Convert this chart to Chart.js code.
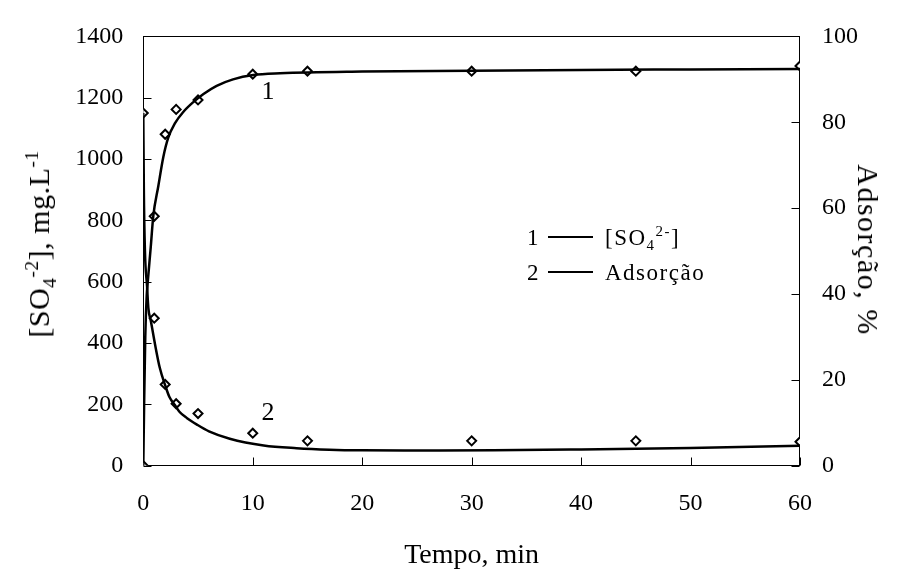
<!DOCTYPE html>
<html>
<head>
<meta charset="utf-8">
<script src="https://cdn.jsdelivr.net/npm/chart.js@4.4.1/dist/chart.umd.min.js"></script>
<style>
  body { margin: 0; background: #fff; }
  #wrap { position: relative; width: 900px; height: 574px; font-family: "Liberation Serif", "Times New Roman", serif; color: #000; }
  .txt { position: absolute; white-space: nowrap; line-height: 1; }
  .ytitle { font-size: 30px; letter-spacing: 0.5px; transform: translate(-50%, -50%) rotate(-90deg); }
  .y2title { font-size: 30px; letter-spacing: 1.5px; transform: translate(-50%, -50%) rotate(90deg); }
  .curve-lbl { font-size: 26px; transform: translate(-50%, -50%); }
  .leg { font-size: 23px; letter-spacing: 1.5px; transform: translateY(-50%); }
  .leg-line { position: absolute; height: 2px; width: 45px; background: #000; }
  sub, sup { font-size: 65%; line-height: 0; }
</style>
</head>
<body>
<div id="wrap">
  <canvas id="grafico" width="900" height="574"></canvas>

  <div class="txt ytitle" style="left:39px; top:244px;">[SO<sub>4</sub><sup>-2</sup>], mg.L<sup>-1</sup></div>
  <div class="txt y2title" style="left:868px; top:250px;">Adsorção, %</div>

  <div class="txt curve-lbl" style="left:268px; top:91px;">1</div>
  <div class="txt curve-lbl" style="left:268px; top:412px;">2</div>

  <div class="txt leg" style="left:527px; top:237px;">1</div>
  <div class="leg-line" style="left:548px; top:236px;"></div>
  <div class="txt leg" style="left:605px; top:237px;">[SO<sub>4</sub><sup>2-</sup>]</div>

  <div class="txt leg" style="left:527px; top:272px;">2</div>
  <div class="leg-line" style="left:548px; top:271px;"></div>
  <div class="txt leg" style="left:605px; top:272px;">Adsorção</div>
</div>

<script>
// tempos medidos (min)
const tempos = [0, 1, 2, 3, 5, 10, 15, 30, 45, 60];

// curva superior (1) - eixo direito, %
const pontosSup = [0, 58.1, 77.2, 83.0, 85.2, 91.2, 91.9, 91.9, 91.9, 93.1];
// curva inferior (2) - eixo esquerdo, mg/L
const pontosInf = [1150, 481, 265, 202, 170, 106, 81, 81, 81, 78];

// linhas de ajuste
const ajusteSupT = [0, 0.08, 0.18, 0.31, 0.4, 0.68, 0.91, 1.37, 1.83, 2.28, 2.9, 3.65, 4.57, 5.5, 6.7, 8.2, 10.05, 12.5, 20, 30, 40, 50, 60];
const ajusteSupY = [0, 15, 30, 39.6, 42.6, 50.9, 58.1, 65.1, 71.9, 76.4, 79.8, 82.4, 84.7, 86.6, 88.5, 90.0, 91.0, 91.4, 91.8, 92.0, 92.2, 92.3, 92.4];

const ajusteInfT = [0, 0.05, 0.15, 0.34, 0.46, 0.7, 1.07, 1.5, 2.0, 2.4, 2.9, 3.3, 4.0, 4.9, 6, 7.9, 11, 14, 17, 20, 25, 32, 40, 50, 60];
const ajusteInfY = [1150, 900, 700, 586, 515, 470, 396, 320, 262, 223, 197, 176, 155, 134, 112, 88, 66, 57, 52, 50, 49.5, 50, 53, 58, 65];

const ticksX = [0, 10, 20, 30, 40, 50, 60];

function pares(xs, ys) {
  return xs.map((x, i) => ({ x: x, y: ys[i] }));
}

const fonte = { family: '"Liberation Serif", "Times New Roman", serif', size: 24 };

// moldura e marcas internas dos eixos
const marcasInternas = {
  id: 'marcasInternas',
  beforeDatasetsDraw(chart) {
    const { ctx, chartArea: a, scales } = chart;
    const L = Math.round(a.left) + 0.5, R = Math.round(a.right) - 0.5;
    const T = Math.round(a.top) + 0.5, B = Math.round(a.bottom) - 0.5;
    ctx.save();
    ctx.strokeStyle = '#000';
    ctx.lineWidth = 1;
    ctx.strokeRect(L, T, R - L, B - T);
    ctx.beginPath();
    scales.x.ticks.forEach(t => {
      const p = Math.round(scales.x.getPixelForValue(t.value)) + 0.5;
      ctx.moveTo(p, B); ctx.lineTo(p, B - 8);
    });
    scales.y.ticks.forEach(t => {
      const p = Math.round(scales.y.getPixelForValue(t.value)) + 0.5;
      ctx.moveTo(L, p); ctx.lineTo(L + 8, p);
    });
    scales.y2.ticks.forEach(t => {
      const p = Math.round(scales.y2.getPixelForValue(t.value)) + 0.5;
      ctx.moveTo(R, p); ctx.lineTo(R - 8, p);
    });
    ctx.stroke();
    ctx.restore();
  }
};

const pontoEstilo = {
  showLine: false,
  pointStyle: 'rectRot',
  pointRadius: 4.5,
  pointBorderWidth: 2,
  pointBackgroundColor: '#fff',
  pointBorderColor: '#000'
};

const linhaEstilo = {
  showLine: true,
  borderColor: '#000',
  borderWidth: 2.5,
  pointRadius: 0,
  cubicInterpolationMode: 'monotone',
  fill: false
};

const semSeparador = v => String(v);

new Chart(document.getElementById('grafico'), {
  type: 'scatter',
  data: {
    datasets: [
      { label: 'ajuste 1', data: pares(ajusteSupT, ajusteSupY), yAxisID: 'y2', ...linhaEstilo },
      { label: 'ajuste 2', data: pares(ajusteInfT, ajusteInfY), yAxisID: 'y', ...linhaEstilo },
      { label: '[SO4]', data: pares(tempos, pontosSup), yAxisID: 'y2', ...pontoEstilo },
      { label: 'Adsorção', data: pares(tempos, pontosInf), yAxisID: 'y', ...pontoEstilo }
    ]
  },
  options: {
    responsive: false,
    animation: false,
    layout: { padding: { top: 22, left: 0, right: 0, bottom: 0 } },
    plugins: {
      legend: { display: false },
      tooltip: { enabled: false }
    },
    scales: {
      x: {
        type: 'linear',
        min: 0, max: 60,
        afterBuildTicks: s => { s.ticks = ticksX.map(v => ({ value: v })); },
        afterFit: s => { s.height = 108.3; },
        grid: { display: false, drawTicks: false },
        border: { display: false },
        ticks: { color: '#000', font: fonte, padding: 24, maxRotation: 0, callback: semSeparador },
        title: {
          display: true,
          text: 'Tempo, min',
          color: '#000',
          font: { family: fonte.family, size: 28 },
          padding: { top: 0, bottom: 2 }
        }
      },
      y: {
        position: 'left',
        min: 0, max: 1400,
        ticks: { stepSize: 200, color: '#000', font: fonte, padding: 20, callback: semSeparador },
        afterFit: s => { s.width = 143.3; },
        grid: { display: false, drawTicks: false },
        border: { display: false }
      },
      y2: {
        position: 'right',
        min: 0, max: 100,
        ticks: { stepSize: 20, color: '#000', font: fonte, padding: 22, callback: semSeparador },
        afterFit: s => { s.width = 100; },
        grid: { display: false, drawTicks: false },
        border: { display: false }
      }
    }
  },
  plugins: [marcasInternas]
});
</script>
</body>
</html>
